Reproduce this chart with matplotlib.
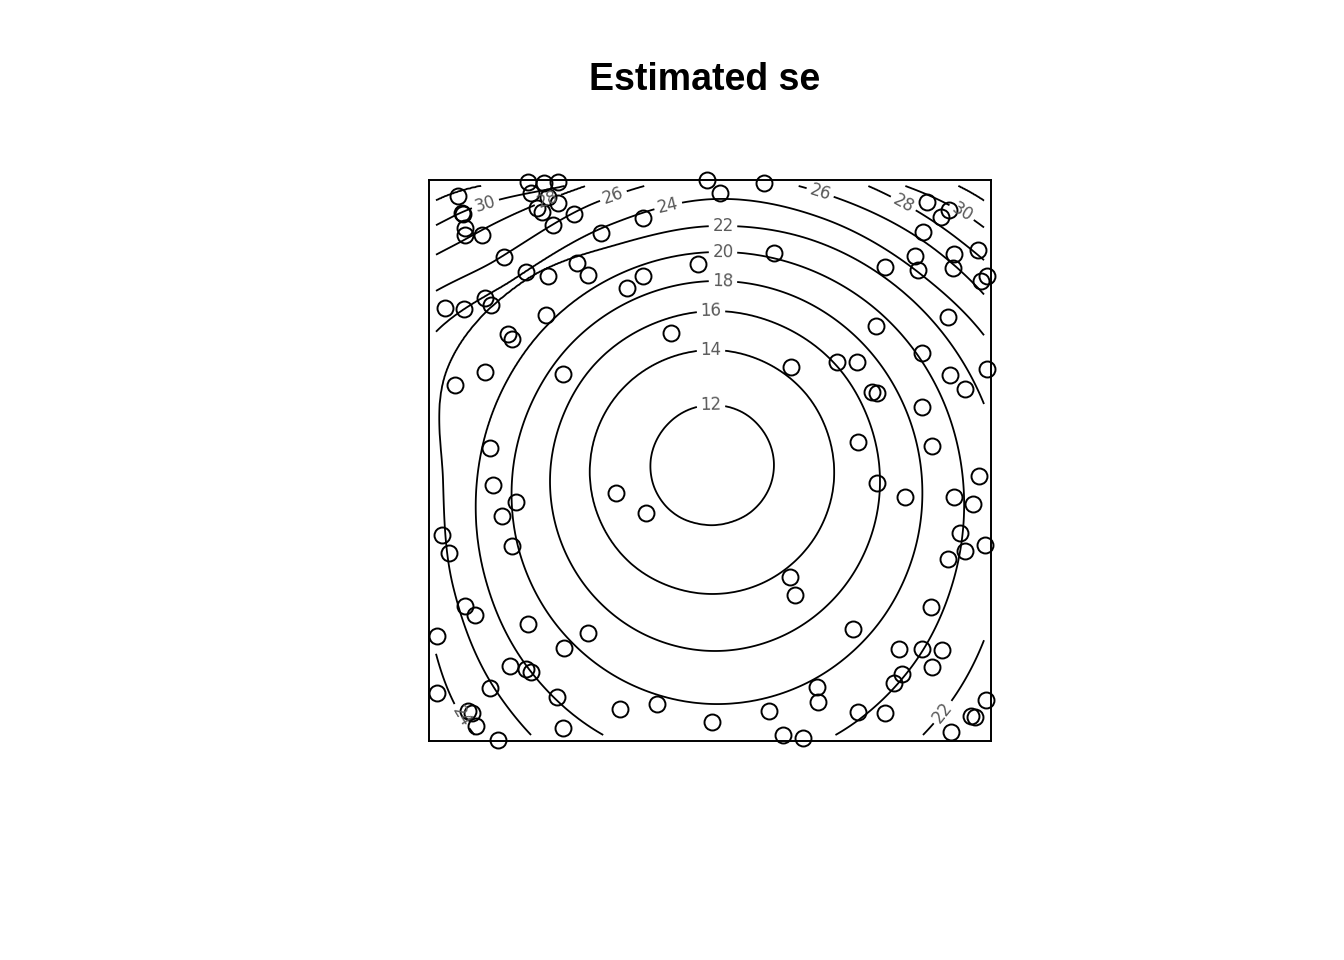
import numpy as np
import matplotlib
matplotlib.use("Agg")
import matplotlib.pyplot as plt

# sample locations, in plot-box units (box is 562 wide, 561 high)
pt_x = [99, 115, 129, 278, 29, 102, 119, 129, 33, 34, 108, 113, 36, 36, 53, 124, 145, 172, 214,
        75, 97, 119, 148, 159, 198, 214, 269, 16, 35, 56, 62, 117, 79, 83, 242, 26, 56, 134, 61,
        291, 335, 498, 512, 520, 494, 486, 489, 525, 524, 549, 558, 552, 456, 345, 519, 447, 493,
        558, 362, 408, 428, 443, 448, 521, 536, 493, 429, 503,
        64, 87, 73, 13, 20, 83, 187, 217, 36, 46, 99, 8, 159, 135, 81, 97, 102, 61, 8, 128, 191,
        228, 39, 43, 47, 134, 69, 283,
        448, 476, 525, 550, 544, 531, 536, 519, 556, 361, 366, 502, 424, 470, 493, 513, 503, 473,
        465, 388, 389, 340, 429, 456, 557, 542, 546, 522, 354, 374]
pt_y = [559, 558, 559, 561, 545, 548, 544, 538, 528, 527, 533, 529, 513, 506, 506, 516, 527, 508, 523,
        484, 469, 465, 478, 466, 453, 465, 477, 433, 432, 443, 436, 426, 407, 402, 408, 356, 369, 367, 293,
        548, 558, 539, 524, 531, 509, 485, 471, 487, 473, 491, 465, 460, 474, 488, 424, 415, 388,
        372, 374, 379, 379, 349, 348, 366, 352, 334, 299, 295,
        256, 239, 225, 206, 188, 195, 248, 228, 135, 126, 117, 105, 108, 93, 75, 72, 69, 53, 48, 44, 32,
        37, 30, 28, 15, 13, 1, 19,
        258, 244, 244, 265, 237, 208, 190, 182, 196, 164, 146, 134, 112, 92, 92, 91, 74, 67,
        58, 54, 39, 30, 29, 28, 41, 25, 24, 9, 6, 3]

# estimated se contours: distance of each level from the centre, read every 22.5 degrees
centre = (286, 261)
se_centre = 10
angles = np.arange(16) * 22.5
levels = [12, 14, 16, 18, 20, 22, 24, 26, 28, 30, 32]
r12 = [57, 63, 68.5, 73, 75, 75, 72.5, 68.5, 63, 57, 51.5, 47, 45, 45, 47.5, 51.5]
r14 = [119, 122, 125.5, 128, 130, 130.5, 130, 128, 125, 121.5, 118.5, 115.5, 114, 113.5, 114, 116]
r16 = [165, 165, 167, 168, 169, 168, 167, 165, 165, 166, 168, 170, 171, 170, 168, 166]
r18 = [207, 203, 201, 200, 199, 198, 198, 199, 203, 209, 215.5, 221, 224, 223, 218.5, 212.5]
r20 = [248, 240.5, 235, 230.5, 228, 227, 228, 231, 238, 249.5, 265, 279, 286, 283, 272, 258.5]
r22 = [289, 276, 266, 259, 254, 255, 277, 290, 272, 283, 305, 327, 340, 338, 325, 306]
r24 = [320, 310, 291, 283, 281, 276, 284, 322, 305, 315, 349, 360, 370, 372, 385, 345]
r26 = [345, 335, 319.5, 307, 305, 302, 310.5, 362, 340, 350, 385, 390, 395, 400, 410, 370]
r28 = [375, 365, 342, 330, 330, 321, 345, 395, 370, 380, 415, 420, 425, 430, 440, 400]
r30 = [400, 390, 367, 341, 360, 326, 372, 420, 400, 410, 440, 445, 450, 455, 465, 425]
r32 = [420, 410, 389, 360, 380, 335, 395, 440, 420, 430, 460, 465, 470, 475, 485, 445]
radii = np.array([r12, r14, r16, r18, r20, r22, r24, r26, r28, r30, r32])

# build the surface on the grid used for the contour lines
gx = np.linspace(7, 555, 450)
gy = np.linspace(6, 555, 450)
X, Y = np.meshgrid(gx, gy)
dx, dy = X - centre[0], Y - centre[1]
dist = np.hypot(dx, dy)
theta = np.degrees(np.arctan2(dy, dx)) % 360

n = len(angles)
pos = theta / 22.5
i1 = np.floor(pos).astype(int) % n
t = pos - np.floor(pos)
i0, i2, i3 = (i1 - 1) % n, (i1 + 1) % n, (i1 + 2) % n
p0, p1, p2, p3 = radii[:, i0], radii[:, i1], radii[:, i2], radii[:, i3]
R = 0.5 * (2 * p1 + (-p0 + p2) * t + (2 * p0 - 5 * p1 + 4 * p2 - p3) * t ** 2
           + (-p0 + 3 * p1 - 3 * p2 + p3) * t ** 3)
R = np.maximum.accumulate(R, axis=0)

edges = np.concatenate([np.zeros((1,) + X.shape), R, R[-1:] + 80], axis=0)
vals = [se_centre] + levels + [levels[-1] + 2]
Z = np.full(X.shape, float(vals[-1]))
for k in range(len(vals) - 2, -1, -1):
    lo, hi = edges[k], edges[k + 1]
    inside = dist < hi
    frac = np.clip((dist - lo) / np.maximum(hi - lo, 1e-6), 0, 1)
    Z = np.where(inside, vals[k] + frac * (vals[k + 1] - vals[k]), Z)

fig = plt.figure(figsize=(13.44, 9.6), dpi=100)
ax = fig.add_axes([429 / 1344, 219 / 960, 562 / 1344, 561 / 960])

cs = ax.contour(X, Y, Z, levels=levels, colors="black", linewidths=1.3)
label_at = [(282, 336), (282, 391), (282, 430), (294, 461), (294, 489), (294, 515),
            (239, 536), (184, 546), (391, 548), (474, 537), (533, 529), (59, 529),
            (119, 541), (511, 31), (35, 26)]
ax.clabel(cs, inline=True, inline_spacing=4, fontsize=12, fmt="%d",
          colors="#5a5a5a", manual=label_at)

ax.plot(pt_x, pt_y, "o", mfc="none", mec="black", ms=11.5, mew=1.4, clip_on=False)

ax.set_xlim(0, 562)
ax.set_ylim(0, 561)
ax.set_xticks([])
ax.set_yticks([])
for s in ax.spines.values():
    s.set_linewidth(1.4)

fig.text(705 / 1344, 1 - 80 / 960, "Estimated se", ha="center", va="center",
         fontsize=27, fontweight="bold", family="Liberation Sans")

fig.savefig("out.png", dpi=100)
